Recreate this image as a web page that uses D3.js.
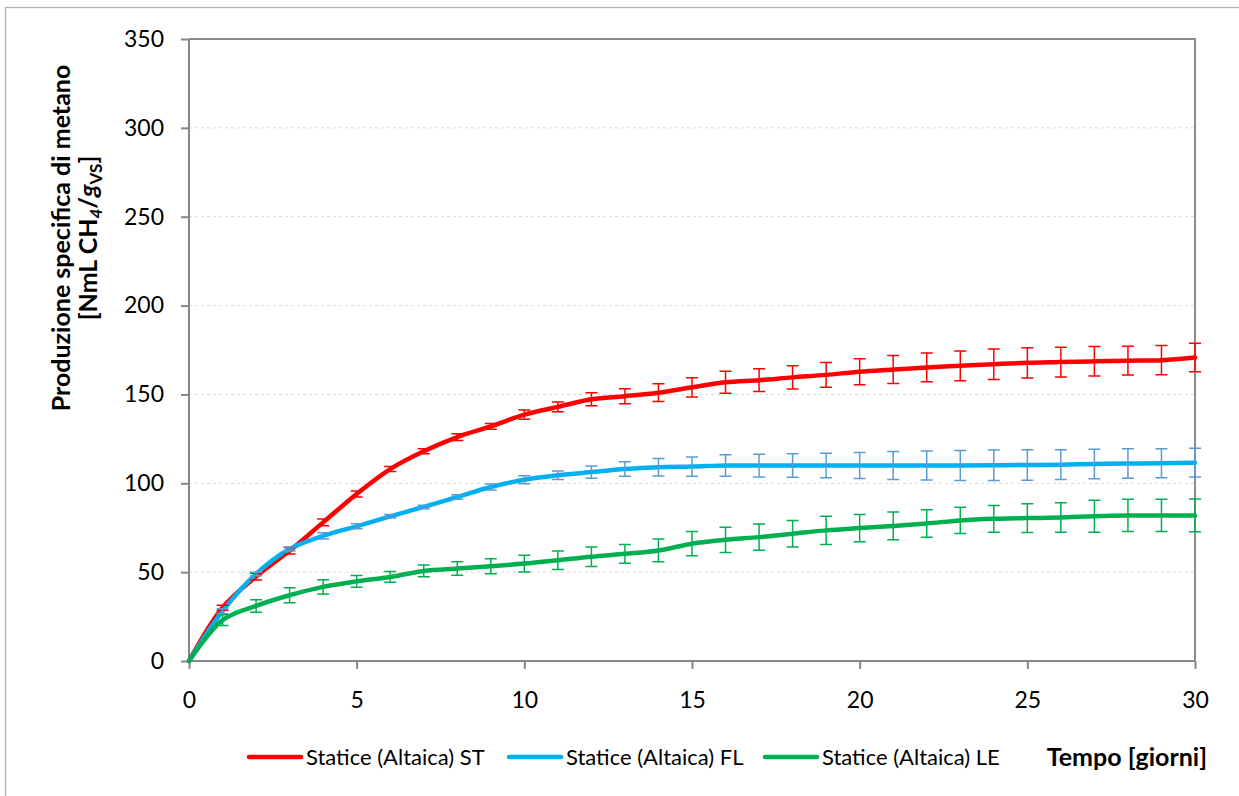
<!DOCTYPE html>
<html>
<head>
<meta charset="utf-8">
<script src="https://cdn.jsdelivr.net/npm/d3@7/dist/d3.min.js"></script>
<style>
  body { margin: 0; background: #fff; }
  text { font-family: Lato, "Open Sans", sans-serif; fill: #000; }
</style>
</head>
<body>
<svg id="chart"></svg>
<script>
let svgW = 1239, svgH = 796;

let margin = {
    top: 39,
    right: 44,
    bottom: 135,
    left: 189
}

// days of digestion
let days = [0, 1, 2, 3, 4, 5, 6, 7, 8, 9, 10, 11, 12, 13, 14, 15, 16, 17, 18, 19, 20, 21, 22, 23, 24, 25, 26, 27, 28, 29, 30];

// Statice (Altaica) ST
let stValues = [0, 30, 47.5, 62, 78, 94, 108, 118, 126, 132, 138.6, 143, 147.3, 149, 151, 154, 156.8, 158, 159.6, 161, 162.8, 164, 165.2, 166.1, 167, 167.8, 168.2, 168.6, 169, 169.3, 170.8];
let stErr = [0, 1.4, 1.9, 1.8, 1.9, 1.7, 1.4, 1.4, 1.9, 1.6, 2.6, 2.8, 3.7, 4.2, 5, 5.4, 6.2, 6.4, 6.6, 7, 7.3, 7.9, 8.1, 8.4, 8.6, 8.5, 8.4, 8.3, 8.1, 8.2, 8];

// Statice (Altaica) FL
let flValues = [0, 28, 49, 63, 70.4, 75.8, 81.4, 86.7, 92.3, 97.9, 102, 104.5, 106.3, 108, 109, 109.4, 110, 110, 110, 110, 110, 110, 110, 110, 110.1, 110.3, 110.5, 110.9, 111.1, 111.3, 111.6];
let flErr = [0, 1.4, 1, 1.1, 1.7, 1.4, 1, 1, 1.3, 1.7, 2.2, 2.4, 3.4, 4.1, 4.9, 5.4, 6.1, 6.4, 6.6, 6.9, 7.3, 7.9, 8.2, 8.4, 8.6, 8.6, 8.4, 8.3, 8.3, 8.2, 8.1];

// Statice (Altaica) LE
let leValues = [0, 23, 31, 37, 41.7, 44.8, 47.3, 50.7, 52, 53.3, 54.8, 56.7, 58.7, 60.3, 62.2, 66, 68.2, 69.7, 71.6, 73.5, 74.8, 76, 77.4, 79.1, 80, 80.4, 80.8, 81.5, 81.9, 81.9, 81.9];
let leErr = [0, 3, 3.5, 4.2, 4, 3.3, 3, 3.3, 3.8, 4.2, 4.7, 5.2, 5.5, 5.3, 6.4, 6.8, 7.1, 7.4, 7.5, 7.9, 7.7, 7.8, 7.7, 7.4, 7.5, 8.1, 8.3, 9, 9.1, 9.1, 9.2];

let seriesNames = ["Statice (Altaica) ST", "Statice (Altaica) FL", "Statice (Altaica) LE"];
let lineColors = ["#ff0000", "#00b0f0", "#00b050"];
let barColors = ["#ff0000", "#5b9bd5", "#00b050"];

let xTicks = [0, 5, 10, 15, 20, 25, 30];
let yTicks = [0, 50, 100, 150, 200, 250, 300, 350];

let series = [stValues, flValues, leValues].map(function (vals, i) {
    return {
        name: seriesNames[i],
        points: days.map(function (d, j) {
            return { day: d, value: vals[j], err: [stErr, flErr, leErr][i][j] };
        })
    };
});

let xScale = d3.scaleLinear()
    .domain([0, 30])
    .range([margin.left, svgW - margin.right])

let yScale = d3.scaleLinear()
    .domain([0, 350])
    .range([svgH - margin.bottom, margin.top])

let svg = d3.select("#chart")
    .attr("width", svgW)
    .attr("height", svgH)

svg.append("rect")
    .attr("width", svgW)
    .attr("height", svgH)
    .attr("fill", "#fff")

// outer frame of the chart area
svg.append("rect")
    .attr("x", 5.5)
    .attr("y", 7.5)
    .attr("width", svgW + 10)
    .attr("height", svgH + 10)
    .attr("fill", "none")
    .attr("stroke", "#b0b0b0")
    .attr("stroke-width", 1.3)

// gridlines
svg.append("g")
    .selectAll("line")
    .data(yTicks.filter(function (t) { return t > 0 && t < 350; }))
    .enter()
    .append("line")
    .attr("x1", xScale(0))
    .attr("x2", xScale(30))
    .attr("y1", function (d) { return yScale(d); })
    .attr("y2", function (d) { return yScale(d); })
    .attr("stroke", "#d9d9d9")
    .attr("stroke-width", 1)
    .attr("stroke-dasharray", "3,3")

// plot frame top / right
svg.append("path")
    .attr("d", "M" + xScale(0) + "," + yScale(350) + "H" + xScale(30) + "V" + yScale(0))
    .attr("fill", "none")
    .attr("stroke", "#8c8c8c")
    .attr("stroke-width", 2)

let xAxis = d3.axisBottom(xScale)
    .tickValues(xTicks)
    .tickSize(8)
    .tickPadding(18)

let yAxis = d3.axisLeft(yScale)
    .tickValues(yTicks)
    .tickSize(8)
    .tickPadding(17)

let gx = svg.append("g")
    .attr("class", "x axis")
    .attr("transform", "translate(0," + yScale(0) + ")")
    .call(xAxis)

let gy = svg.append("g")
    .attr("class", "y axis")
    .attr("transform", "translate(" + xScale(0) + ",0)")
    .call(yAxis)

svg.selectAll(".axis path, .axis line")
    .attr("stroke", "#868686")
    .attr("stroke-width", 2)
svg.selectAll(".axis path").attr("d", function () {
    return d3.select(this.parentNode).classed("x")
        ? "M" + xScale(0) + ",0H" + xScale(30)
        : "M0," + yScale(0) + "V" + yScale(350);
})
svg.selectAll(".axis text")
    .attr("font-family", "Lato, sans-serif")
    .attr("font-size", 23)
    .attr("fill", "#000")
gx.selectAll("text").attr("dy", "0.9em")

let line = d3.line()
    .x(function (d) { return xScale(d.day); })
    .y(function (d) { return yScale(d.value); })
    .curve(d3.curveCatmullRom.alpha(0.5))

series.forEach(function (s, i) {
    svg.append("path")
        .datum(s.points)
        .attr("d", line)
        .attr("fill", "none")
        .attr("stroke", lineColors[i])
        .attr("stroke-width", 4.5)
        .attr("stroke-linejoin", "round")
        .attr("stroke-linecap", "round")
})

series.forEach(function (s, i) {
    let bars = svg.append("g")
        .attr("stroke", barColors[i])
        .attr("stroke-width", 1.5)
        .attr("fill", "none")
    let pts = s.points.filter(function (d) { return d.err > 0; })
    bars.selectAll("path")
        .data(pts)
        .enter()
        .append("path")
        .attr("d", function (d) {
            let x = xScale(d.day), y1 = yScale(d.value + d.err), y0 = yScale(d.value - d.err);
            return "M" + (x - 6) + "," + y1 + "H" + (x + 6) +
                "M" + x + "," + y1 + "V" + y0 +
                "M" + (x - 6) + "," + y0 + "H" + (x + 6);
        })
})

// legend
let legendX = [249, 509, 765];
let legend = svg.append("g")
series.forEach(function (s, i) {
    legend.append("line")
        .attr("x1", legendX[i])
        .attr("x2", legendX[i] + 52)
        .attr("y1", 757)
        .attr("y2", 757)
        .attr("stroke", lineColors[i])
        .attr("stroke-width", 4.5)
        .attr("stroke-linecap", "round")
    legend.append("text")
        .attr("x", legendX[i] + 57)
        .attr("y", 757)
        .attr("dy", "0.35em")
        .attr("font-size", 22)
        .text(s.name)
})

svg.append("text")
    .attr("x", 1207)
    .attr("y", 757)
    .attr("dy", "0.35em")
    .attr("text-anchor", "end")
    .attr("font-size", 25)
    .attr("font-weight", "bold")
    .text("Tempo [giorni]")

// y axis title
let yTitle = svg.append("text")
    .attr("transform", "translate(61,238) rotate(-90)")
    .attr("text-anchor", "middle")
    .attr("font-size", 25)
    .attr("font-weight", "bold")
yTitle.append("tspan")
    .attr("x", 0)
    .attr("dy", "0.35em")
    .text("Produzione specifica di metano")
let t2 = yTitle.append("tspan")
    .attr("x", 0)
    .attr("dy", "1.1em")
t2.text("[NmL CH")
yTitle.append("tspan").attr("font-size", 17).attr("font-style", "italic").attr("dy", 5).text("4")
yTitle.append("tspan").attr("dy", -5).text("/")
yTitle.append("tspan").attr("font-style", "italic").text("g")
yTitle.append("tspan").attr("font-size", 17).attr("dy", 5).text("VS")
yTitle.append("tspan").attr("dy", -5).text("]")
</script>
</body>
</html>
